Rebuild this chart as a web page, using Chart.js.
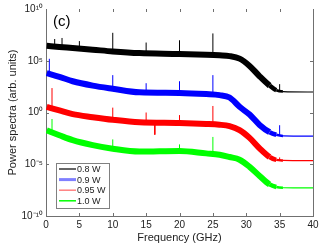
<!DOCTYPE html>
<html>
<head>
<meta charset="utf-8">
<script src="https://cdn.jsdelivr.net/npm/chart.js@4.4.1/dist/chart.umd.min.js"></script>
<style>
html, body { margin: 0; padding: 0; background: #fff; }
</style>
</head>
<body>
<canvas id="grafica" width="328" height="246"></canvas>
<script>
// frecuencias (GHz) donde se leyeron las trazas
const frecuencias = [0.1, 2, 4, 7, 10, 14, 20, 24, 26, 27.5, 29, 30.5, 32, 33.5, 34.5, 35.5, 40];
// log10 del espectro de potencia para cada potencia de bombeo
const exp08  = [6.44, 6.33, 6.23, 6.07, 5.9, 5.74, 5.66, 5.58, 5.52, 5.45, 5.2, 4.5, 3.5, 2.6, 2.15, 2.02, 1.98];
const exp09  = [3.8, 3.45, 3.02, 2.6, 2.3, 1.95, 1.89, 1.78, 1.68, 1.45, 0.55, -0.2, -1.2, -1.9, -2.15, -2.26, -2.29];
const exp095 = [0.55, 0.2, -0.16, -0.45, -0.7, -0.94, -1.01, -1.1, -1.18, -1.32, -1.7, -2.45, -3.46, -4.3, -4.58, -4.63, -4.65];
const exp10  = [-1.73, -2.2, -2.67, -3.15, -3.5, -3.77, -3.71, -3.95, -4.08, -4.3, -4.56, -5.25, -6.13, -6.95, -7.2, -7.27, -7.29];

// picos: [frecuencia, base, punta] en log10
const picos08  = [[1.3, 6.4, 7.1], [2.4, 6.32, 7.2], [5, 6.2, 6.9], [10, 5.9, 7.7], [15, 5.72, 6.76], [20, 5.66, 6.98], [25, 5.55, 7.64], [35, 2.05, 2.74]];
const picos09  = [[0.5, 3.7, 5.19], [10, 2.3, 3.61], [15, 1.93, 2.83], [20, 1.89, 3.02], [25, 1.72, 3.61], [35, -2.2, -1.23]];
const picos095 = [[0.9, 0.4, 2.36], [10, -0.7, 0.47], [15, -0.95, 0], [16.3, -0.97, -2.14], [20, -1.01, -0.25], [25, -1.15, 0.63], [35, -4.6, -4.34]];
const picos10  = [[0.9, -1.9, -0.63], [10, -3.5, -2.6], [20, -3.7, -3.08], [25, -3.9, -2.36]];

const etiquetas = ['0.8 W', '0.9 W', '0.95 W', '1.0 W'];
const colores = ['#000000', '#0000ff', '#ff0000', '#00ff00'];
const coloresLeyenda = ['#000000', '#8080ff', '#ff8080', '#00ff00'];

const ticksX = [0, 5, 10, 15, 20, 25, 30, 35, 40];
const ticksY = [1e-10, 1e-5, 1, 1e5, 1e10];
const etiquetasY = ['10\u207B\u00B9\u2070', '10\u207B\u2075', '10\u2070', '10\u2075', '10\u00B9\u2070'];

const fuente = "'Liberation Sans', Arial, sans-serif";

function serie(exps) {
    return frecuencias.map((f, i) => ({ x: f, y: Math.pow(10, exps[i]) }));
}
function puntosPicos(lista) {
    const pts = [];
    lista.forEach(p => {
        pts.push({ x: p[0], y: Math.pow(10, p[1]) });
        pts.push({ x: p[0], y: Math.pow(10, p[2]) });
        pts.push({ x: p[0], y: null });
    });
    return pts;
}
// ancho de la banda de ruido: se afina al llegar al piso
function anchoBanda(ctx) {
    const x = ctx.p0.parsed.x;
    if (x >= 35.5) return 1.2;
    if (x >= 34.5) return 2.5;
    if (x >= 33.5) return 4.5;
    return 6;
}

const trazas = [exp08, exp09, exp095, exp10];
const picos = [picos08, picos09, picos095, picos10];
const datasets = [];
trazas.forEach((t, i) => {
    datasets.push({
        label: etiquetas[i],
        data: serie(t),
        borderColor: colores[i],
        borderWidth: 6,
        pointRadius: 0,
        cubicInterpolationMode: 'monotone',
        segment: { borderWidth: anchoBanda }
    });
    datasets.push({
        label: etiquetas[i] + ' picos',
        data: puntosPicos(picos[i]),
        borderColor: colores[i],
        borderWidth: 1,
        pointRadius: 0,
        spanGaps: false
    });
});

// marco: borde derecho, ticks hacia adentro, leyenda y "(c)"
const marco = {
    id: 'marco',
    afterDatasetsDraw(chart) {
        const ctx = chart.ctx;
        const a = chart.chartArea;
        const sx = chart.scales.x;
        const sy = chart.scales.y;
        ctx.save();
        ctx.strokeStyle = '#707070';
        ctx.lineWidth = 1;
        ctx.beginPath();
        ctx.moveTo(a.right + 0.5, a.top);
        ctx.lineTo(a.right + 0.5, a.bottom);
        ticksX.slice(1, -1).forEach(v => {
            const px = Math.round(sx.getPixelForValue(v)) + 0.5;
            ctx.moveTo(px, a.bottom); ctx.lineTo(px, a.bottom - 3);
            ctx.moveTo(px, a.top); ctx.lineTo(px, a.top + 3);
        });
        ticksY.slice(1, -1).forEach(v => {
            const py = Math.round(sy.getPixelForValue(v)) + 0.5;
            ctx.moveTo(a.left, py); ctx.lineTo(a.left + 3, py);
            ctx.moveTo(a.right, py); ctx.lineTo(a.right - 3, py);
        });
        ctx.stroke();

        // leyenda
        const lx = 56, ly = 163, lw = 53, lh = 45;
        ctx.fillStyle = '#fff';
        ctx.fillRect(lx, ly, lw, lh);
        ctx.strokeStyle = '#808080';
        ctx.strokeRect(lx + 0.5, ly + 0.5, lw, lh);
        ctx.font = '9px ' + fuente;
        ctx.textBaseline = 'middle';
        const anchos = [1.2, 3, 1.5, 1.5];
        etiquetas.forEach((t, i) => {
            const y = ly + 6 + i * 10.6;
            ctx.strokeStyle = coloresLeyenda[i];
            ctx.lineWidth = anchos[i];
            ctx.beginPath();
            ctx.moveTo(lx + 3, y); ctx.lineTo(lx + 20, y);
            ctx.stroke();
            ctx.fillStyle = '#222';
            ctx.fillText(t, lx + 21, y + 0.5);
        });

        ctx.font = '15px ' + fuente;
        ctx.fillStyle = '#000';
        ctx.textBaseline = 'alphabetic';
        ctx.fillText('(c)', 53, 26);
        ctx.restore();
    }
};

new Chart(document.getElementById('grafica').getContext('2d'), {
    type: 'line',
    data: { datasets: datasets },
    options: {
        responsive: false,
        animation: false,
        devicePixelRatio: 1,
        layout: { padding: { top: 4, right: 15, left: 0, bottom: 0 } },
        plugins: { legend: { display: false }, tooltip: { enabled: false } },
        scales: {
            x: {
                type: 'linear',
                min: 0,
                max: 40,
                afterBuildTicks: s => { s.ticks = ticksX.map(v => ({ value: v })); },
                afterFit: s => { s.height = 30; },
                ticks: { font: { size: 10, family: fuente }, color: '#222', padding: 3 },
                grid: { drawOnChartArea: false, drawTicks: false },
                border: { display: true, color: '#707070' },
                title: { display: true, text: 'Frequency (GHz)', font: { size: 11, family: fuente }, color: '#222', padding: { top: 0, bottom: 1 } }
            },
            y: {
                type: 'logarithmic',
                min: 1e-10,
                max: 1e10,
                afterBuildTicks: s => { s.ticks = ticksY.map(v => ({ value: v })); },
                afterFit: s => { s.width = 46; },
                ticks: {
                    font: { size: 10, family: fuente },
                    color: '#222',
                    padding: 3,
                    callback: (v, i) => etiquetasY[i]
                },
                grid: { drawOnChartArea: false, drawTicks: false },
                border: { display: true, color: '#707070' },
                title: { display: true, text: 'Power spectra (arb. units)', font: { size: 11, family: fuente }, color: '#222', padding: { top: 6, bottom: 0 } }
            }
        }
    },
    plugins: [marco]
});
</script>
</body>
</html>
